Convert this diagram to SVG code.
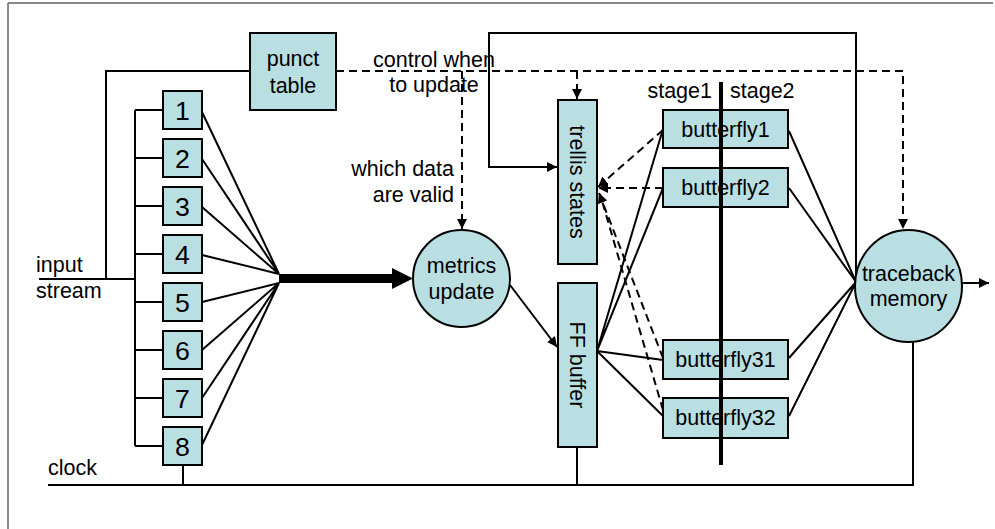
<svg xmlns="http://www.w3.org/2000/svg" width="995" height="529" viewBox="0 0 995 529">
<style>
.box{fill:#b9dfe2;stroke:#000;stroke-width:2}
.ln{fill:none;stroke:#000;stroke-width:2}
.ds{fill:none;stroke:#000;stroke-width:2;stroke-dasharray:8,5}
text{font-family:"Liberation Sans",Arial,sans-serif;font-size:21.5px;fill:#000}
.c{text-anchor:middle}
.r{text-anchor:end}
.d{font-size:26.7px;text-anchor:middle}
</style>
<defs>
<marker id="ah" viewBox="0 0 10 10" refX="10" refY="5" markerWidth="5" markerHeight="5" orient="auto" markerUnits="strokeWidth">
<path d="M0,0 L10,5 L0,10 Z" fill="#000"/>
</marker>
</defs>
<rect x="0" y="0" width="995" height="529" fill="#fff"/>
<path d="M8,3 H993" stroke="#888" stroke-width="2" fill="none"/>
<path d="M8,3 V529" stroke="#666" stroke-width="1.5" fill="none"/>
<g id="connectors">
<!-- input bus -->
<path class="ln" d="M39,279 H135"/>
<path class="ln" d="M250,71 H106 V279"/>
<path class="ln" d="M135,110 V446"/>
<path class="ln" d="M135,110 H163 M135,158 H163 M135,206 H163 M135,254 H163 M135,302 H163 M135,350 H163 M135,398 H163 M135,446 H163"/>
<!-- fan -->
<path class="ln" d="M202,112 L279,274 M202,159 L279,274 M202,207 L279,274 M202,255 L279,274"/>
<path class="ln" d="M202,302 L279,283 M202,350 L279,283 M202,398 L279,283 M202,445 L279,283"/>
<path d="M279,278.5 H394" stroke="#000" stroke-width="9" fill="none"/>
<polygon points="392,268 413,278.5 392,289" fill="#000"/>
<!-- clock -->
<path class="ln" d="M48,485 H913 V342"/>
<path class="ln" d="M183,466 V485"/>
<path class="ln" d="M577,447 V485"/>
<!-- loop -->
<path class="ln" d="M856,282 V33 H489 V167 H557" marker-end="url(#ah)"/>
<!-- dashed control -->
<path class="ds" d="M336,71 H903 V229" marker-end="url(#ah)"/>
<path class="ds" d="M462,71 V229" marker-end="url(#ah)"/>
<path class="ds" d="M577,71 V99" marker-end="url(#ah)"/>
<!-- metrics to FF -->
<path class="ln" d="M510,285 L557,347" marker-end="url(#ah)"/>
<!-- FF to butterflies -->
<path class="ln" d="M597,351 L663,129 M597,351 L663,188 M597,351 L663,360 M597,351 L663,416"/>
<!-- butterflies to trellis (dashed) -->
<path class="ds" d="M663,130 L598,187" marker-end="url(#ah)"/>
<path class="ds" d="M663,188 H598" marker-end="url(#ah)"/>
<path class="ds" d="M663,358 L599,193" marker-end="url(#ah)"/>
<path class="ds" d="M663,410 L600,194"/>
<!-- butterflies to traceback -->
<path class="ln" d="M789,131 L856,282 M789,188 L856,282 M789,358 L856,282 M789,416 L856,282"/>
<!-- output -->
<path class="ln" d="M962,283 H989" marker-end="url(#ah)"/>
</g>
<g id="punct">
<rect class="box" x="250" y="33" width="86" height="77"/>
<text class="c" x="293" y="66">punct</text>
<text class="c" x="293" y="93">table</text>
</g>
<g id="b1"><rect class="box" x="163" y="91" width="39" height="38"/><text class="d" x="182.5" y="120">1</text></g>
<g id="b2"><rect class="box" x="163" y="139" width="39" height="38"/><text class="d" x="182.5" y="168">2</text></g>
<g id="b3"><rect class="box" x="163" y="187" width="39" height="38"/><text class="d" x="182.5" y="216">3</text></g>
<g id="b4"><rect class="box" x="163" y="235" width="39" height="38"/><text class="d" x="182.5" y="264">4</text></g>
<g id="b5"><rect class="box" x="163" y="283" width="39" height="38"/><text class="d" x="182.5" y="312">5</text></g>
<g id="b6"><rect class="box" x="163" y="331" width="39" height="38"/><text class="d" x="182.5" y="360">6</text></g>
<g id="b7"><rect class="box" x="163" y="379" width="39" height="38"/><text class="d" x="182.5" y="408">7</text></g>
<g id="b8"><rect class="box" x="163" y="427" width="39" height="38"/><text class="d" x="182.5" y="456">8</text></g>
<g id="metrics">
<circle class="box" cx="461.5" cy="278.5" r="48.5"/>
<text class="c" x="461.5" y="273">metrics</text>
<text class="c" x="461.5" y="299">update</text>
</g>
<g id="trellis">
<rect class="box" x="558" y="100" width="39" height="164"/>
<text class="c" transform="translate(577.5,182) rotate(90)" dy="0.35em">trellis states</text>
</g>
<g id="ff">
<rect class="box" x="558" y="283" width="39" height="164"/>
<text class="c" transform="translate(577.5,365) rotate(90)" dy="0.35em">FF buffer</text>
</g>
<g id="bf1"><rect class="box" x="663" y="110" width="125" height="38"/><text class="c" x="725.5" y="137">butterfly1</text></g>
<g id="bf2"><rect class="box" x="663" y="168" width="125" height="39"/><text class="c" x="725.5" y="195">butterfly2</text></g>
<g id="bf31"><rect class="box" x="663" y="340" width="125" height="39"/><text class="c" x="725.5" y="367">butterfly31</text></g>
<g id="bf32"><rect class="box" x="663" y="398" width="125" height="40"/><text class="c" x="725.5" y="425">butterfly32</text></g>
<g id="divider">
<path d="M721,82 V465" stroke="#000" stroke-width="4" fill="none"/>
</g>
<g id="traceback">
<ellipse class="box" cx="908.5" cy="286" rx="53.5" ry="56"/>
<text class="c" x="908.5" y="281">traceback</text>
<text class="c" x="908.5" y="306">memory</text>
</g>
<g id="labels">
<text x="36" y="272">input</text>
<text x="36" y="298">stream</text>
<text x="48" y="475">clock</text>
<text class="c" x="434" y="67">control when</text>
<text class="c" x="434" y="92">to update</text>
<text class="r" x="454" y="176">which data</text>
<text class="r" x="454" y="202">are valid</text>
<text class="r" x="712" y="98">stage1</text>
<text x="730" y="98">stage2</text>
</g>
</svg>
